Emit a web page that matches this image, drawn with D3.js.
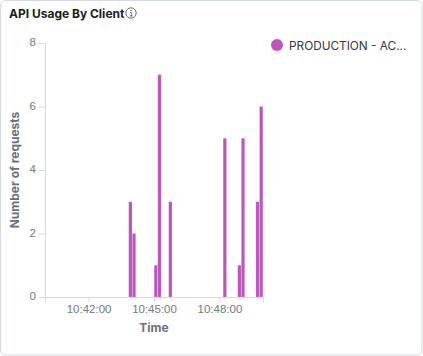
<!DOCTYPE html>
<html>
<head>
<meta charset="utf-8">
<script src="https://cdn.jsdelivr.net/npm/d3@7"></script>
<style>
  html, body { margin: 0; padding: 0; background: #fff; overflow: hidden; }
  svg { display: block; font-family: Inter, "Noto Sans", sans-serif; }
  .axis text { font-size: 11.5px; fill: #74777d; }
  .axis line, .axis path { stroke: #d9d9d9; }
</style>
</head>
<body>
<svg id="chart" width="423" height="356"></svg>
<script>
const bucketTimes = ["10:43:50", "10:44:00", "10:45:00", "10:45:10", "10:45:40", "10:48:10", "10:48:50", "10:49:00", "10:49:40", "10:49:50"];
const requestCounts = [3, 2, 1, 7, 3, 5, 1, 5, 3, 6];
const yTicks = [0, 2, 4, 6, 8];
const xTicks = ["10:40:00", "10:42:00", "10:45:00", "10:48:00", "10:50:00"];
const xLabels = ["10:42:00", "10:45:00", "10:48:00"];
const seriesName = "PRODUCTION - AC...";

const parse = d3.timeParse("%H:%M:%S");
const format = d3.timeFormat("%H:%M:%S");
const color = "#bd55bd";

const svg = d3.select("#chart");

// card
svg.append("rect")
  .attr("x", 0.5).attr("y", 0.5)
  .attr("width", 421.5).attr("height", 354.5)
  .attr("rx", 5)
  .attr("fill", "#fff")
  .attr("stroke", "#d3dae6");

svg.append("text")
  .attr("x", 9).attr("y", 18)
  .attr("font-size", 12).attr("font-weight", 700).attr("fill", "#1a1c21")
  .text("API Usage By Client");

// info icon
const info = svg.append("g").attr("transform", "translate(131,13)")
  .attr("fill", "none").attr("stroke", "#5a5e66").attr("stroke-width", 0.9);
info.append("circle").attr("r", 5.2);
info.append("path").attr("d", "M-1,-0.5H0.3V3M-1.3,3H1.7");
info.append("circle").attr("cx", 0).attr("cy", -2.5).attr("r", 0.4);

const x = d3.scaleTime()
  .domain([parse("10:40:00"), parse("10:50:00")])
  .range([45, 263]);
const y = d3.scaleLinear().domain([0, 8]).range([297, 43]);

const binWidth = x(parse("10:40:10")) - x(parse("10:40:00"));

// bars
svg.append("g").selectAll("rect")
  .data(bucketTimes.map((t, i) => ({ t: parse(t), v: requestCounts[i] })))
  .enter().append("rect")
  .attr("x", d => x(d.t) + 0.15)
  .attr("y", d => y(d.v))
  .attr("width", binWidth - 0.3)
  .attr("height", d => y(0) - y(d.v))
  .attr("fill", color)
  .attr("stroke", "#fff")
  .attr("stroke-opacity", 0.25)
  .attr("stroke-width", 0.5);

// y axis
const yAxis = svg.append("g").attr("class", "axis")
  .attr("transform", "translate(45,0)")
  .call(d3.axisLeft(y).tickValues(yTicks).tickFormat(d3.format("d")).tickSize(6).tickPadding(3));
yAxis.select(".domain").attr("d", `M0.5,${y(8)}V${y(0)}`);
yAxis.selectAll("text").attr("dy", "0.22em");

// x axis
const xAxis = svg.append("g").attr("class", "axis")
  .attr("transform", "translate(0,297)")
  .call(d3.axisBottom(x)
    .tickValues(xTicks.map(parse))
    .tickSize(5).tickPadding(3)
    .tickFormat(d => xLabels.includes(format(d)) ? format(d) : ""));
xAxis.select(".domain").attr("d", `M${x.range()[0]},0.5H${x.range()[1]}`);

// axis titles
svg.append("text")
  .attr("transform", "translate(19,170) rotate(-90)")
  .attr("text-anchor", "middle")
  .attr("font-size", 12).attr("font-weight", 700).attr("fill", "#69707d")
  .text("Number of requests");
svg.append("text")
  .attr("x", 154).attr("y", 332)
  .attr("text-anchor", "middle")
  .attr("font-size", 12).attr("font-weight", 700).attr("fill", "#69707d")
  .text("Time");

// legend
svg.append("circle")
  .attr("cx", 277).attr("cy", 45).attr("r", 6)
  .attr("fill", color);
svg.append("text")
  .attr("x", 289).attr("y", 50)
  .attr("font-size", 11.8).attr("fill", "#343741")
  .text(seriesName);
</script>
</body>
</html>
